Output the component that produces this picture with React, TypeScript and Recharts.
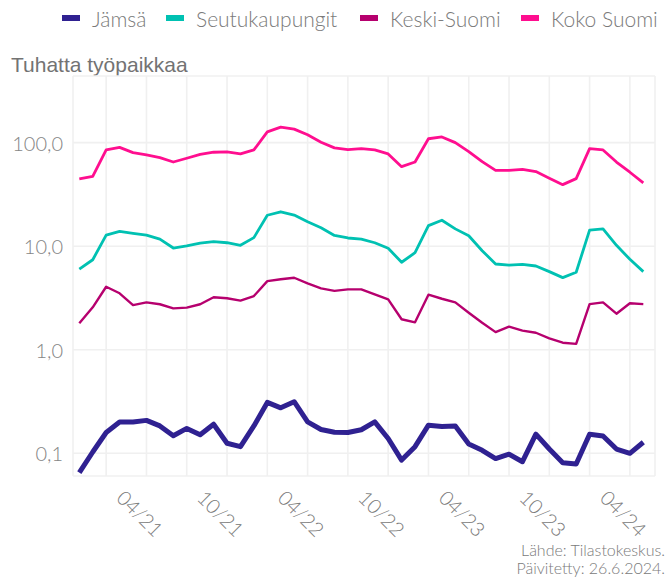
import { LineChart, Line, XAxis, YAxis, CartesianGrid } from "recharts"

const months = [
  "11/20", "12/20", "01/21", "02/21", "03/21", "04/21", "05/21", "06/21", "07/21", "08/21", "09/21",
  "10/21", "11/21", "12/21", "01/22", "02/22", "03/22", "04/22", "05/22", "06/22", "07/22", "08/22",
  "09/22", "10/22", "11/22", "12/22", "01/23", "02/23", "03/23", "04/23", "05/23", "06/23", "07/23",
  "08/23", "09/23", "10/23", "11/23", "12/23", "01/24", "02/24", "03/24", "04/24", "05/24",
]

const jamsa = [
  0.065, 0.103, 0.159, 0.201, 0.201, 0.208, 0.184, 0.148, 0.174, 0.151, 0.191,
  0.125, 0.116, 0.184, 0.31, 0.275, 0.315, 0.201, 0.17, 0.16, 0.159, 0.169,
  0.201, 0.139, 0.086, 0.116, 0.187, 0.182, 0.184, 0.123, 0.107, 0.089, 0.098,
  0.083, 0.153, 0.11, 0.081, 0.079, 0.153, 0.147, 0.11, 0.1, 0.128,
]

const seutukaupungit = [
  6.0, 7.4, 12.8, 13.9, 13.3, 12.8, 11.7, 9.6, 10.05, 10.7, 11.05,
  10.8, 10.2, 12.1, 19.9, 21.5, 20.0, 17.2, 15.1, 12.7, 12.0, 11.7,
  10.8, 9.55, 7.0, 8.65, 15.8, 17.8, 14.7, 12.6, 9.05, 6.73, 6.58,
  6.68, 6.44, 5.68, 4.97, 5.6, 14.3, 14.7, 10.2, 7.47, 5.68,
]

const keskiSuomi = [
  1.8, 2.57, 4.06, 3.51, 2.7, 2.87, 2.75, 2.51, 2.55, 2.75, 3.21,
  3.14, 2.98, 3.3, 4.6, 4.79, 4.96, 4.38, 3.92, 3.7, 3.83, 3.83,
  3.43, 3.07, 1.97, 1.84, 3.4, 3.11, 2.87, 2.28, 1.82, 1.48, 1.67,
  1.53, 1.46, 1.29, 1.17, 1.14, 2.76, 2.87, 2.23, 2.81, 2.76,
]

const kokoSuomi = [
  44.6, 47.3, 85, 90, 80, 76, 71.6, 65, 70.7, 77, 80.8,
  81.3, 77.8, 85, 127, 141, 135, 119, 101, 89, 85.5, 87.5,
  85, 77.8, 58.6, 65, 109, 113.5, 100, 82, 65.6, 54, 54,
  55.3, 52.5, 45.3, 39.3, 44.9, 87.5, 85, 65, 51.8, 40.8,
]

const yTicks = [0.1, 1, 10, 100]
const xTicks = [2, 5, 8, 11, 14, 17, 20, 23, 26, 29, 32, 35, 38, 41]

const series = [
  { key: "jamsa", name: "Jämsä", color: "#2f2191", width: 5, legendX: 62 },
  { key: "seutu", name: "Seutukaupungit", color: "#00c1b2", width: 2.8, legendX: 166 },
  { key: "keski", name: "Keski-Suomi", color: "#b6006e", width: 2.4, legendX: 360 },
  { key: "koko", name: "Koko Suomi", color: "#ff0e8f", width: 2.8, legendX: 521 },
]

const data = months.map((m, i) => ({
  i,
  month: m,
  jamsa: jamsa[i],
  seutu: seutukaupungit[i],
  keski: keskiSuomi[i],
  koko: kokoSuomi[i],
}))

const font = "Lato, 'Noto Sans', sans-serif"

function XTick({ x, payload }: any) {
  const label = months[payload.value]
  if (!label || !(label.startsWith("04") || label.startsWith("10"))) return null
  const cx = x - 6
  const cy = 513
  return (
    <text
      x={cx}
      y={cy}
      textAnchor="middle"
      dominantBaseline="central"
      transform={`rotate(45, ${cx}, ${cy})`}
      fill="#7a7a7a"
      fontSize={20}
      fontWeight={300}
      fontFamily={font}
    >
      {label}
    </text>
  )
}

function YTick({ y, payload }: any) {
  return (
    <text
      x={63}
      y={y}
      textAnchor="end"
      dominantBaseline="central"
      fill="#858585"
      fontSize={20}
      fontWeight={300}
      fontFamily={font}
    >
      {payload.value.toFixed(1).replace(".", ",")}
    </text>
  )
}

export default function App() {
  return (
    <div style={{ position: "absolute", left: 0, top: 0, width: 669, height: 579, background: "#fff" }}>
      {series.map((s) => (
        <div key={s.key} style={{ position: "absolute", left: s.legendX, top: 4, display: "flex", alignItems: "center", height: 28 }}>
          <div style={{ width: 18, height: 6, background: s.color }} />
          <span style={{ marginLeft: 12, fontFamily: font, fontWeight: 300, fontSize: 21, color: "#7a7a7a" }}>{s.name}</span>
        </div>
      ))}
      <div style={{ position: "absolute", left: 11, top: 53, fontFamily: "'Liberation Sans', Arial, sans-serif", fontSize: 21, lineHeight: "24px", color: "#737373" }}>
        Tuhatta työpaikkaa
      </div>
      <LineChart width={669} height={579} data={data} margin={{ top: 76, right: 14, bottom: 0, left: 0 }}>
        <CartesianGrid stroke="#f0f0f0" strokeWidth={1.6} />
        <XAxis
          dataKey="i"
          type="number"
          domain={[-0.47, 42.87]}
          ticks={xTicks}
          height={103}
          tickLine={false}
          axisLine={false}
          interval={0}
          tick={<XTick />}
          allowDataOverflow
        />
        <YAxis
          scale="log"
          type="number"
          domain={[0.0604, 440]}
          ticks={yTicks}
          width={73}
          tickLine={false}
          axisLine={false}
          tick={<YTick />}
          allowDataOverflow
          interval={0}
        />
        {series.map((s) => (
          <Line
            key={s.key}
            type="linear"
            dataKey={s.key}
            name={s.name}
            stroke={s.color}
            strokeWidth={s.width}
            dot={false}
            isAnimationActive={false}
            strokeLinejoin="round"
          />
        ))}
      </LineChart>
      <div style={{ position: "absolute", right: 4, top: 541, textAlign: "right", fontFamily: font, fontWeight: 300, fontSize: 16, lineHeight: "18px", color: "#7a7a7a" }}>
        Lähde: Tilastokeskus.
        <br />
        Päivitetty: 26.6.2024.
      </div>
    </div>
  )
}
